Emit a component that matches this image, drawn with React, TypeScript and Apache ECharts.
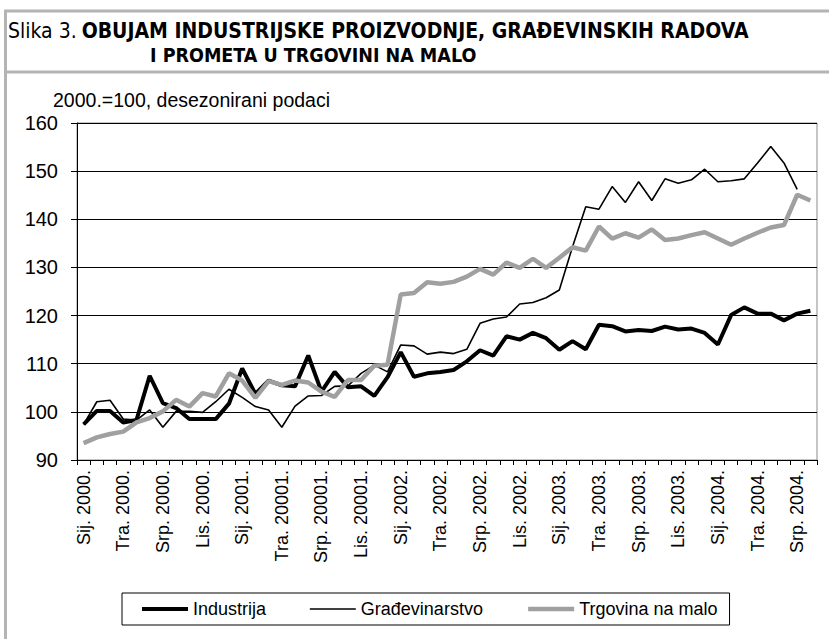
import React, { useEffect, useRef } from "react";
import * as echarts from "echarts";

const categories = [
  "Sij. 2000.", "Velj. 2000.", "Ožu. 2000.", "Tra. 2000.", "Svi. 2000.", "Lip. 2000.", "Srp. 2000.", "Kol. 2000.", "Ruj. 2000.", "Lis. 2000.", "Stu. 2000.", "Pro. 2000.",
  "Sij. 2001.", "Velj. 2001.", "Ožu. 2001.", "Tra. 20001.", "Svi. 2001.", "Lip. 2001.", "Srp. 20001.", "Kol. 2001.", "Ruj. 2001.", "Lis. 20001.", "Stu. 2001.", "Pro. 2001.",
  "Sij. 2002.", "Velj. 2002.", "Ožu. 2002.", "Tra. 2002.", "Svi. 2002.", "Lip. 2002.", "Srp. 2002.", "Kol. 2002.", "Ruj. 2002.", "Lis. 2002.", "Stu. 2002.", "Pro. 2002.",
  "Sij. 2003.", "Velj. 2003.", "Ožu. 2003.", "Tra. 2003.", "Svi. 2003.", "Lip. 2003.", "Srp. 2003.", "Kol. 2003.", "Ruj. 2003.", "Lis. 2003.", "Stu. 2003.", "Pro. 2003.",
  "Sij. 2004.", "Velj. 2004.", "Ožu. 2004.", "Tra. 2004.", "Svi. 2004.", "Lip. 2004.", "Srp. 2004.", "Kol. 2004.",
];

const industrija = [
  97.4, 100.2, 100.2, 97.8, 98.3, 107.5, 101.8, 100.8, 98.5, 98.5,
  98.5, 101.7, 109.0, 103.7, 106.5, 105.5, 105.3, 111.7, 104.2, 108.3,
  105.1, 105.3, 103.3, 107.2, 112.4, 107.3, 108.0, 108.3, 108.7, 110.5,
  112.8, 111.7, 115.7, 115.0, 116.4, 115.3, 112.9, 114.7, 113.0, 118.1,
  117.8, 116.7, 117.0, 116.8, 117.7, 117.1, 117.3, 116.4, 114.0, 120.1,
  121.7, 120.4, 120.4, 119.0, 120.4, 121.0,
];

const gradjevinarstvo = [
  97.4, 102.1, 102.4, 98.5, 98.3, 100.4, 96.8, 100.1, 100.1, 99.9,
  102.1, 104.7, 103.0, 101.1, 100.4, 96.8, 101.2, 103.3, 103.4, 105.3,
  105.4, 108.0, 109.7, 108.3, 113.9, 113.7, 112.0, 112.4, 112.1, 113.0,
  118.4, 119.3, 119.7, 122.4, 122.7, 123.7, 125.3, 134.3, 142.6, 142.1,
  146.8, 143.5, 147.8, 143.9, 148.4, 147.5, 148.2, 150.4, 147.8, 148.0,
  148.4, 151.7, 155.1, 151.7, 146.2, null,
];

const trgovina = [
  93.5, 94.7, 95.4, 95.9, 97.8, 98.7, 100.1, 102.5, 101.1, 103.9,
  103.2, 108.0, 106.5, 102.9, 106.4, 105.6, 106.5, 106.1, 104.2, 103.1,
  106.6, 106.6, 109.6, 109.8, 124.4, 124.7, 126.9, 126.6, 127.0, 128.1,
  129.7, 128.5, 131.0, 129.9, 131.8, 129.9, 132.0, 134.2, 133.5, 138.5,
  136.0, 137.1, 136.2, 137.9, 135.7, 136.0, 136.7, 137.3, 136.0, 134.7,
  136.0, 137.2, 138.3, 138.8, 145.1, 143.9,
];

const seriesNames = ["Industrija", "Građevinarstvo", "Trgovina na malo"];
const seriesColors = ["#000000", "#000000", "#a0a0a0"];
const seriesWidths = [4, 1.6, 4.5];
const titleLine1Prefix = "Slika 3.";
const titleLine1 = "OBUJAM INDUSTRIJSKE PROIZVODNJE, GRAĐEVINSKIH RADOVA";
const titleLine2 = "I PROMETA U TRGOVINI NA MALO";
const subtitle = "2000.=100, desezonirani podaci";

const FONT = "'Liberation Sans', Arial, sans-serif";
const NARROW = "'Liberation Sans Narrow', 'DejaVu Sans Condensed', 'DejaVu Sans', Arial, sans-serif";

export default function App() {
  const ref = useRef<HTMLDivElement>(null);
  useEffect(() => {
    if (!ref.current) return;
    const chart = echarts.init(ref.current, null, { renderer: "svg" });
    const seriesData = [industrija, gradjevinarstvo, trgovina];
    chart.setOption({
      animation: false,
      backgroundColor: "#ffffff",
      title: [
        {
          text: `{n|${titleLine1Prefix}} {b|${titleLine1}}`,
          left: 8,
          top: 20,
          padding: 0,
          textStyle: {
            rich: {
              n: { fontFamily: NARROW, fontSize: 21, fontWeight: "normal", color: "#000" },
              b: { fontFamily: NARROW, fontSize: 21, fontWeight: "bold", color: "#000" },
            },
          },
        },
        {
          text: titleLine2,
          left: 150,
          top: 45,
          padding: 0,
          textStyle: { fontFamily: NARROW, fontSize: 19.5, fontWeight: "bold", color: "#000" },
        },
        {
          text: subtitle,
          left: 53,
          top: 90,
          padding: 0,
          textStyle: { fontFamily: FONT, fontSize: 19.5, fontWeight: "normal", color: "#000" },
        },
      ],
      graphic: [
        { type: "line", shape: { x1: 4, y1: 11, x2: 829, y2: 11 }, style: { stroke: "#b4b4b4", lineWidth: 3 } },
        { type: "line", shape: { x1: 4, y1: 72, x2: 829, y2: 72 }, style: { stroke: "#b4b4b4", lineWidth: 3 } },
        { type: "line", shape: { x1: 5.5, y1: 10, x2: 5.5, y2: 639 }, style: { stroke: "#b4b4b4", lineWidth: 3 } },
      ],
      legend: {
        data: seriesNames.map((name, i) => ({
          name,
          lineStyle: { color: seriesColors[i], width: seriesWidths[i] },
          itemStyle: { color: "rgba(0,0,0,0)", opacity: 0, borderWidth: 0 },
        })),
        left: 122,
        top: 593,
        padding: [7, 12, 7, 18],
        itemGap: 43,
        itemWidth: 46,
        itemHeight: 18,
        borderColor: "#000",
        borderWidth: 1,
        itemStyle: { color: "rgba(0,0,0,0)", opacity: 0, borderWidth: 0 },
        textStyle: { fontFamily: FONT, fontSize: 18, color: "#000" },
      },
      grid: {
        left: 77,
        top: 123,
        right: 12,
        bottom: 179,
        show: true,
        borderColor: "#8c8c8c",
        borderWidth: 1,
      },
      xAxis: {
        type: "category",
        data: categories,
        boundaryGap: true,
        axisLine: { lineStyle: { color: "#000", width: 1 } },
        axisTick: { show: true, interval: 0, length: 5, lineStyle: { color: "#000" } },
        axisLabel: {
          interval: 2,
          rotate: 90,
          margin: 10,
          fontFamily: FONT,
          fontSize: 18,
          color: "#000",
        },
        splitLine: { show: false },
      },
      yAxis: {
        type: "value",
        min: 90,
        max: 160,
        interval: 10,
        axisLine: { show: true, lineStyle: { color: "#000", width: 1 } },
        axisTick: { show: true, length: 6, lineStyle: { color: "#000" } },
        axisLabel: { margin: 19, fontFamily: FONT, fontSize: 20, color: "#000" },
        splitLine: { show: true, lineStyle: { color: "#000", width: 1 } },
      },
      series: seriesNames.map((name, i) => ({
        name,
        type: "line",
        data: seriesData[i],
        symbol: "none",
        lineStyle: { color: seriesColors[i], width: seriesWidths[i] },
        itemStyle: { color: seriesColors[i] },
      })),
    });
    return () => chart.dispose();
  }, []);
  return (
    <div
      ref={ref}
      style={{ position: "fixed", left: 0, top: 0, width: 829, height: 639, background: "#fff" }}
    />
  );
}
